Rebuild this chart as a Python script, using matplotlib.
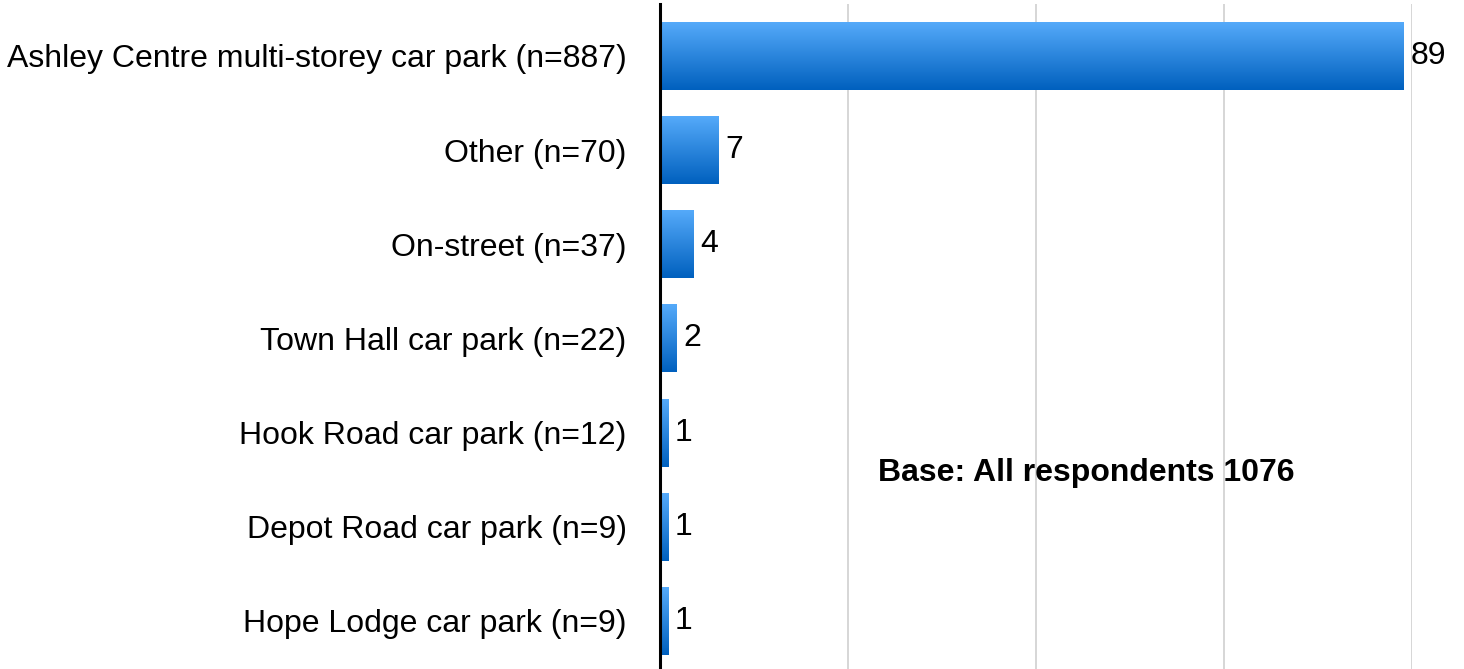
import numpy as np
import matplotlib
matplotlib.use("Agg")
from matplotlib import pyplot as plt
from matplotlib.colors import LinearSegmentedColormap

categories = [
    "Ashley Centre multi-storey car park (n=887)",
    "Other (n=70)",
    "On-street (n=37)",
    "Town Hall car park (n=22)",
    "Hook Road car park (n=12)",
    "Depot Road car park (n=9)",
    "Hope Lodge car park (n=9)",
]
values = [89, 7, 4, 2, 1, 1, 1]
base_note = "Base: All respondents 1076"

plt.rcParams['font.family'] = ['Liberation Sans', 'DejaVu Sans']

W, H = 1464, 669
fig = plt.figure(figsize=(W / 100, H / 100), dpi=100)
ax = fig.add_axes([660 / W, 0, 752 / W, 665 / H])

bar_h = 0.72
grad = LinearSegmentedColormap.from_list("blu", ["#0060be", "#55aafa"])
g = np.linspace(0, 1, 256).reshape(-1, 1)

for i, v in enumerate(values):
    # gradient fill, light at top, dark at bottom (y axis is inverted)
    ax.imshow(g, cmap=grad, aspect='auto', origin='lower',
              extent=(0, v, i + bar_h / 2, i - bar_h / 2), zorder=2)
    ax.text(v + 0.8, i, str(v), va='center', ha='left', fontsize=23,
            clip_on=False, zorder=3)

ax.set_xlim(0, 90)
ax.set_ylim(6.51, -0.552)
ax.set_xticks([22.5, 45, 67.5, 90])
ax.grid(axis='x', color='#d0d0d0', lw=1.2, zorder=0)
ax.set_yticks(range(len(categories)))
ax.set_yticklabels(categories, fontsize=23)
ax.tick_params(axis='y', length=0, pad=24)
ax.tick_params(axis='x', length=0, labelbottom=False)
for s in ['top', 'right', 'bottom']:
    ax.spines[s].set_visible(False)
ax.spines['left'].set_linewidth(2.2)
ax.spines['left'].set_zorder(4)

ax.text(878 / W, 1 - 473 / H, base_note, transform=fig.transFigure,
        fontsize=23, fontweight='bold', va='center', ha='left')

fig.savefig("out.png", dpi=100)
